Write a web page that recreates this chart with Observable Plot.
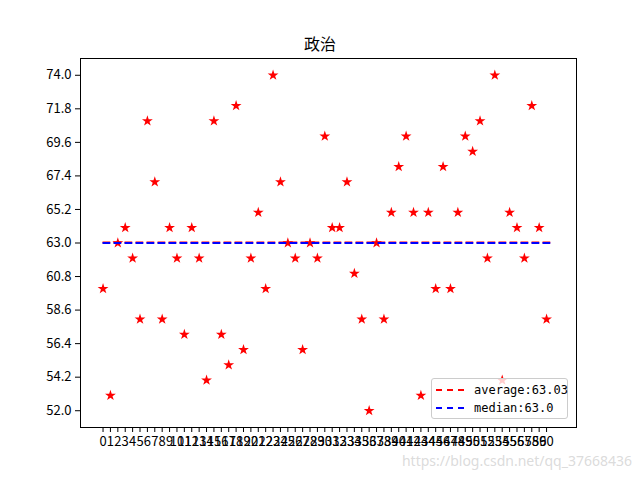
<!DOCTYPE html>
<html>
<head>
<meta charset="utf-8">
<script src="https://cdn.jsdelivr.net/npm/d3@7"></script>
<script src="https://cdn.jsdelivr.net/npm/@observablehq/plot@0.6"></script>
<style>
  html, body { margin: 0; padding: 0; background: #fff; }
  #wrap { position: relative; width: 640px; height: 480px; overflow: hidden; font-family: "Noto Sans CJK SC", sans-serif; }
  #title { height: 48px; box-sizing: border-box; padding-top: 33px; line-height: 20px; text-align: center; font-size: 16px; color: #000; }
  #legend { position: absolute; left: 431px; top: 378px; width: 137px; height: 41px; box-sizing: border-box;
            border: 1px solid #cccccc; border-radius: 3px; background: rgba(255,255,255,0.8);
            font-family: "DejaVu Sans Mono", monospace; font-size: 12px; color: #000; }
  .row { position: absolute; left: 0; height: 16px; line-height: 16px; }
  .sw { position: absolute; left: 4px; top: 7px; width: 28px; height: 0; border-top: 2px dashed; }
  .lab { position: absolute; left: 42px; top: 0; white-space: nowrap; }
  #wm { position: absolute; right: 8px; top: 451px; font-family: "Noto Sans", sans-serif; font-size: 14px; color: rgba(215,215,215,0.9); }
</style>
</head>
<body>
<div id="wrap">
  <div id="title"></div>
  <div id="chart"></div>
  <div id="legend"></div>
  <div id="wm">https://blog.csdn.net/qq_37668436</div>
</div>
<script>
const chartTitle = "政治";
const scores = [60, 53, 63, 64, 62, 58, 71, 67, 58, 64,
                62, 57, 64, 62, 54, 71, 57, 55, 72, 56,
                62, 65, 60, 74, 67, 63, 62, 56, 63, 62,
                70, 64, 64, 67, 61, 58, 52, 63, 58, 65,
                68, 70, 65, 53, 65, 60, 68, 60, 65, 70,
                69, 71, 62, 74, 54, 65, 64, 62, 72, 64, 58];
const xTicks = d3.range(scores.length);
const yTicks = [52.0, 54.2, 56.4, 58.6, 60.8, 63.0, 65.2, 67.4, 69.6, 71.8, 74.0];

const average = d3.mean(scores);
const median = d3.median(scores);
const avgLabel = "average:" + (Math.round(average * 100) / 100);
const medLabel = "median:" + median.toFixed(1);

const data = scores.map((v, i) => ({idx: i, score: v}));
const lineEnd = scores.length;

document.getElementById("title").textContent = chartTitle;

const dash = "7.7,3.3";
const plot = Plot.plot({
  width: 640,
  height: 432,
  marginTop: 10,
  marginBottom: 53,
  marginLeft: 80,
  marginRight: 64,
  style: { fontFamily: "Noto Sans CJK SC, sans-serif", fontSize: "13px", color: "#000", background: "#fff" },
  x: { domain: [-3.05, 64.05], label: null },
  y: { domain: [50.9, 75.1], label: null },
  marks: [
    Plot.dot(data, { x: "idx", y: "score", symbol: "star", fill: "red", stroke: "none", r: 3.4 }),
    Plot.ruleY([average], { x1: 0, x2: lineEnd, stroke: "red", strokeWidth: 2, strokeDasharray: dash }),
    Plot.ruleY([median], { x1: 0, x2: lineEnd, stroke: "blue", strokeWidth: 2, strokeDasharray: dash }),
    Plot.frame({ stroke: "black", strokeWidth: 1 }),
    Plot.axisX({ ticks: xTicks, tickFormat: d => String(d), tickSize: 5, tickPadding: 4, stroke: "black" }),
    Plot.axisY({ ticks: yTicks, tickFormat: d3.format(".1f"), tickSize: 5, tickPadding: 4, stroke: "black" })
  ]
});
document.getElementById("chart").appendChild(plot);

const legend = document.getElementById("legend");
[[avgLabel, "red", 3], [medLabel, "blue", 21]].forEach(([t, c, top]) => {
  const r = document.createElement("div");
  r.className = "row";
  r.style.top = top + "px";
  const s = document.createElement("div");
  s.className = "sw";
  s.style.borderTopColor = c;
  const l = document.createElement("div");
  l.className = "lab";
  l.textContent = t;
  r.appendChild(s); r.appendChild(l);
  legend.appendChild(r);
});
</script>
</body>
</html>
